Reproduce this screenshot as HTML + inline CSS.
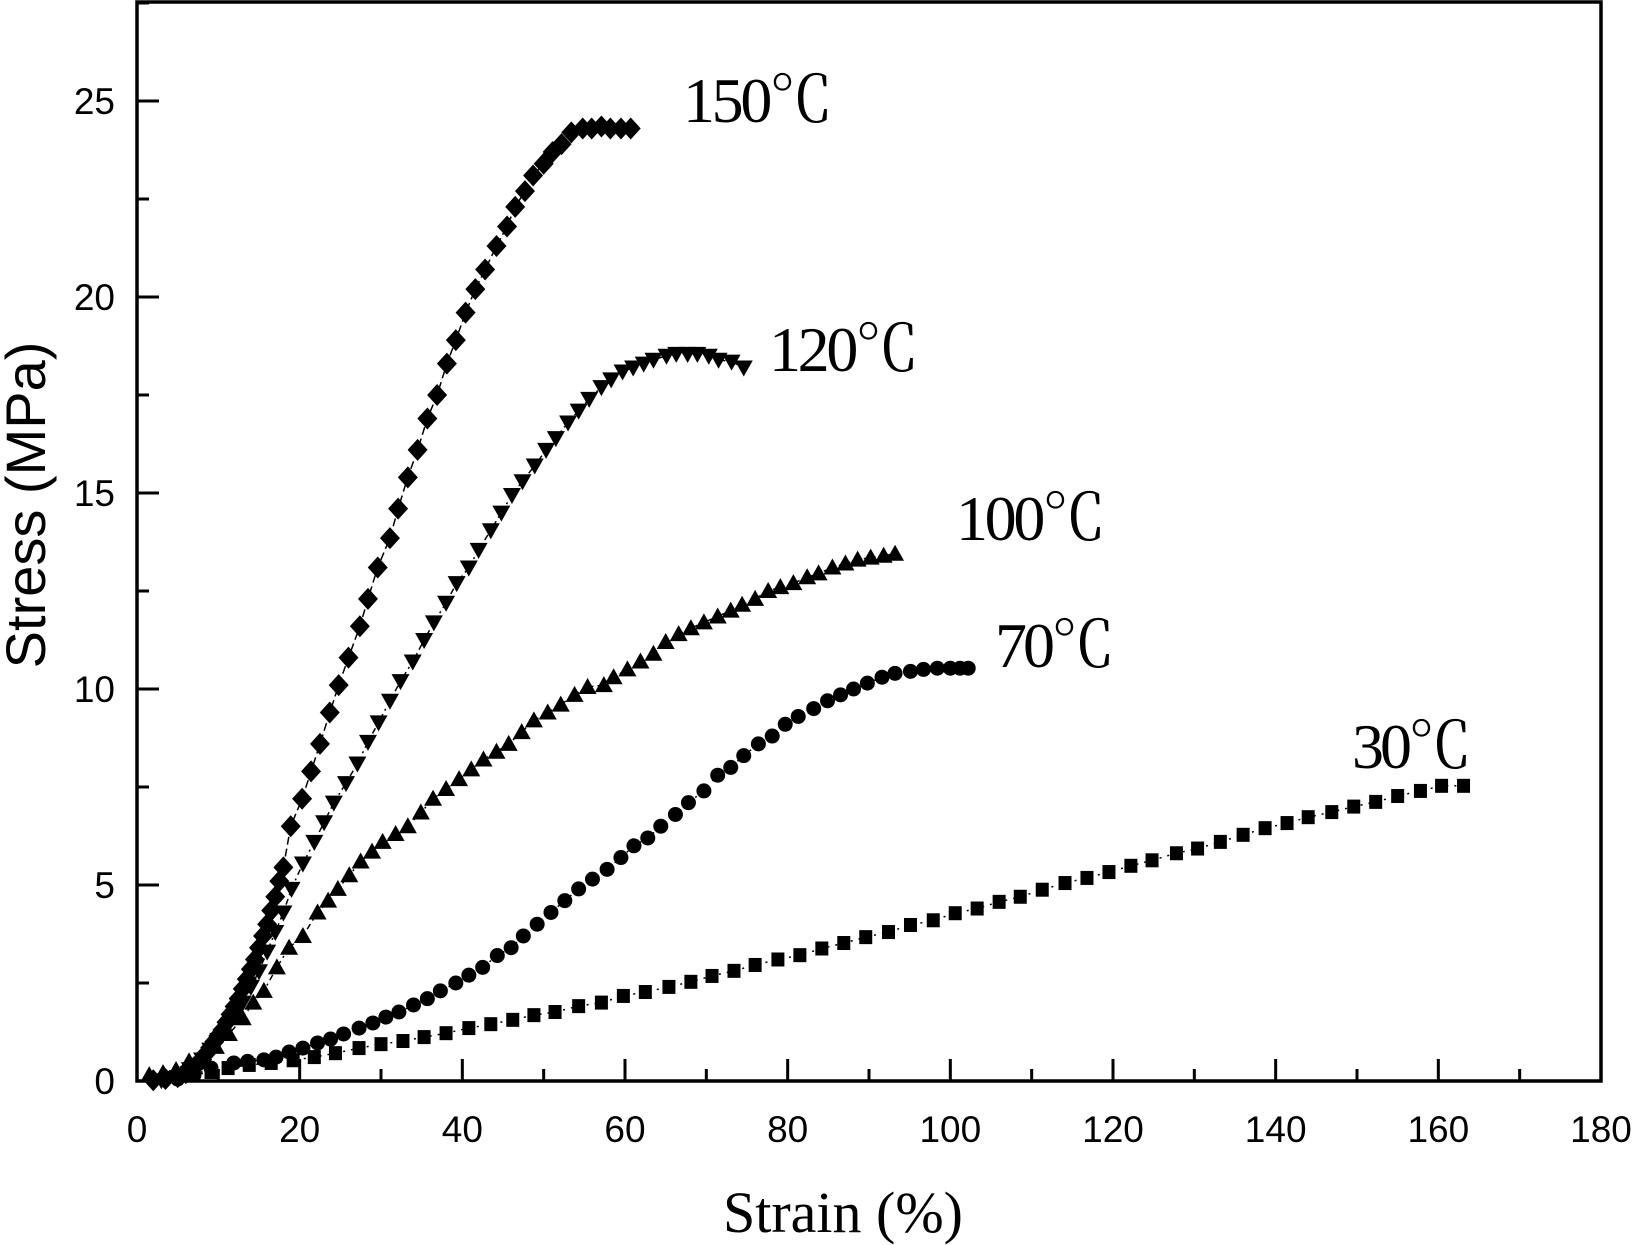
<!DOCTYPE html>
<html><head><meta charset="utf-8"><style>
html,body{margin:0;padding:0;background:#fff;}
svg{display:block;}
</style></head><body>
<svg id="chart" width="1633" height="1245" viewBox="0 0 1633 1245" xmlns="http://www.w3.org/2000/svg">
<rect x="0" y="0" width="1633" height="1245" fill="#fff"/>
<g id="plot"></g>
<g id="axes"></g>
</svg>
<script>
// ---- data ----
const xTicks = [0,20,40,60,80,100,120,140,160,180];
const yTicks = [0,5,10,15,20,25];
const x150 = [2,3.5,5,6,7,7.5,8,8.5,9,9.5,10,10.5,11,11.5,12,12.5,13,13.5,14,14.5,15,15.5,16,16.5,17,17.5,18,18.9,20.3,21.4,22.5,23.7,24.8,26,27.4,28.4,29.6,31.1,32.1,33.3,34.5,35.7,36.9,38.1,39.2,40.4,41.6,42.8,44.2,45.5,46.5,47.7,48.7,50,51.1,52.2,53.4,54.8,55.9,57.1,58.2,59.5,60.7];
const y150 = [0.02,0.05,0.1,0.2,0.35,0.45,0.55,0.7,0.85,1.0,1.15,1.3,1.5,1.7,1.9,2.1,2.35,2.6,2.85,3.1,3.4,3.7,4.0,4.35,4.7,5.1,5.45,6.5,7.2,7.9,8.6,9.4,10.1,10.8,11.6,12.3,13.1,13.85,14.6,15.4,16.1,16.9,17.5,18.3,18.9,19.6,20.2,20.7,21.3,21.8,22.3,22.7,23.1,23.4,23.7,23.9,24.2,24.3,24.3,24.35,24.3,24.3,24.3];
const x120 = [3,5,6.5,8,9,10,11,12,13,14,15,16,17,18,19,20.4,21.8,23,24.2,25.7,27.1,28.4,29.7,31.1,32.4,33.9,35.3,36.5,38,39.3,40.8,42,43.5,44.8,46.1,47.4,48.9,50.3,51.5,53,54.3,55.6,57.1,58.3,59.7,61,62.3,63.5,65.1,66.3,67.7,68.9,70.3,71.5,73.1,74.6];
const y120 = [0.02,0.1,0.3,0.55,0.8,1.05,1.35,1.65,2.0,2.4,2.8,3.3,3.8,4.3,4.9,5.55,6.1,6.6,7.1,7.6,8.1,8.65,9.15,9.7,10.2,10.7,11.25,11.7,12.2,12.7,13.1,13.55,14.05,14.5,14.95,15.3,15.7,16.1,16.4,16.8,17.1,17.4,17.7,17.9,18.1,18.2,18.3,18.4,18.5,18.55,18.55,18.55,18.5,18.4,18.35,18.2];
const x100 = [1.5,3.2,4.8,6.4,7.9,9.7,11.3,13,14.3,15.6,17.2,18.7,20.4,22.2,23.5,24.7,26.1,27.5,28.9,30.2,31.8,33.3,34.9,36.4,38,39.6,41.1,42.6,44.2,45.7,47.3,48.8,50.5,52.1,53.8,55.4,57.4,58.6,60.3,61.9,63.5,65,66.6,68.1,69.7,71.4,73,74.4,76,77.6,79.1,80.7,82.4,83.8,85.5,87.1,88.6,90.2,91.8,93.2];
const y100 = [0.15,0.2,0.28,0.5,0.6,0.87,1.2,1.6,2.0,2.3,2.9,3.4,3.7,4.3,4.6,4.9,5.25,5.6,5.85,6.1,6.3,6.5,6.85,7.2,7.45,7.7,7.95,8.2,8.4,8.6,8.9,9.2,9.4,9.6,9.85,10.05,10.1,10.3,10.5,10.7,10.9,11.2,11.4,11.55,11.7,11.85,12.0,12.15,12.3,12.5,12.6,12.7,12.85,12.95,13.1,13.2,13.3,13.35,13.4,13.45];
const x70 = [5,7,9.1,11.9,13.6,15.6,17.1,18.7,20.4,22.2,23.8,25.4,27.3,29,30.6,32.2,34,35.7,37.3,39.2,40.8,42.5,44.3,46,47.5,49.2,50.9,52.6,54.3,56,57.8,59.5,61.1,62.8,64.4,66.2,67.8,69.7,71.4,73,74.6,76.4,78.1,79.7,81.3,83.2,84.9,86.5,88.1,89.8,91.6,93.2,95.1,96.7,98.4,100,101.2,102.2];
const y70 = [0.05,0.15,0.33,0.46,0.5,0.54,0.61,0.74,0.84,0.97,1.07,1.2,1.35,1.48,1.63,1.76,1.94,2.1,2.3,2.5,2.7,2.9,3.2,3.4,3.7,4.0,4.3,4.6,4.9,5.15,5.4,5.7,6.0,6.2,6.5,6.8,7.1,7.4,7.8,8.0,8.3,8.6,8.8,9.1,9.3,9.5,9.7,9.85,10.0,10.15,10.3,10.4,10.45,10.5,10.53,10.53,10.53,10.53];
const x30 = [6.9,9.1,11.2,13.8,16.5,19.2,21.8,24.4,27.3,30,32.7,35.3,38,40.8,43.5,46.2,48.8,51.4,54.3,57.1,59.8,62.5,65.4,68.1,70.7,73.4,76,78.8,81.5,84.2,86.9,89.6,92.4,95.1,97.9,100.6,103.3,106,108.6,111.3,114.1,116.8,119.5,122.2,124.8,127.8,130.4,133.2,136,138.7,141.4,144,146.9,149.6,152.3,155,157.8,160.4,163.1];
const y30 = [0.15,0.23,0.33,0.41,0.46,0.53,0.61,0.71,0.84,0.94,1.02,1.12,1.22,1.35,1.45,1.56,1.68,1.76,1.91,2.0,2.17,2.27,2.4,2.53,2.68,2.81,2.96,3.1,3.21,3.38,3.52,3.67,3.8,3.98,4.1,4.28,4.4,4.57,4.7,4.88,5.05,5.18,5.33,5.49,5.63,5.81,5.93,6.1,6.28,6.45,6.58,6.73,6.86,7.0,7.12,7.27,7.4,7.53,7.53];

// ---- axes geometry ----
const X0=137, X1=1601, Y0=1081, Y1=2;
const xMax=180;
function sx(v){return X0 + v/xMax*(X1-X0);}
function sy(v){return Y0 - v*39.2;}
const NS="http://www.w3.org/2000/svg";
const plot=document.getElementById('plot');
const axes=document.getElementById('axes');
function mk(tag,attrs,parent){const e=document.createElementNS(NS,tag);for(const k in attrs)e.setAttribute(k,attrs[k]);parent.appendChild(e);return e;}

function marker(kind,cx,cy,g){
  let e;
  if(kind==='diamond'){e=mk('polygon',{points:`${cx},${cy-11} ${cx+10},${cy} ${cx},${cy+11} ${cx-10},${cy}`,fill:'#000'},g);}
  else if(kind==='down'){e=mk('polygon',{points:`${cx-9},${cy-7} ${cx+9},${cy-7} ${cx},${cy+9}`,fill:'#000'},g);}
  else if(kind==='up'){e=mk('polygon',{points:`${cx-9},${cy+7} ${cx+9},${cy+7} ${cx},${cy-9}`,fill:'#000'},g);}
  else if(kind==='circle'){e=mk('circle',{cx:cx,cy:cy,r:7.5,fill:'#000'},g);}
  else {e=mk('rect',{x:cx-6.5,y:cy-7,width:13,height:14,fill:'#000'},g);}
  return e;
}
function series(name,xs,ys,kind,dash){
  const g=mk('g',{},plot);
  
  
  const pts=xs.map((x,i)=>sx(x).toFixed(1)+','+sy(ys[i]).toFixed(1)).join(' ');
  const l=mk('polyline',{points:pts,fill:'none',stroke:'#000','stroke-width':1.5,'stroke-dasharray':dash},g);
  
  
  xs.forEach((x,i)=>{
    const m=marker(kind,sx(x),sy(ys[i]),g);
    
    
  });
}
series('series-30c',x30,y30,'square','2 6');
series('series-70c',x70,y70,'circle','2 6');
series('series-100c',x100,y100,'up','6 4 2 4');
series('series-120c',x120,y120,'down','6 4 2 4');
series('series-150c',x150,y150,'diamond','8 4');

const frame=mk('rect',{x:X0,y:Y1,width:X1-X0,height:Y0-Y1,fill:'none',stroke:'#000','stroke-width':3.5},axes);


xTicks.forEach(v=>{
  const t=mk('line',{x1:sx(v),x2:sx(v),y1:Y0,y2:Y0-22,stroke:'#000','stroke-width':3},axes);
  
  
  const lb=mk('text',{x:sx(v),y:1142,'text-anchor':'middle','font-family':'Liberation Sans, sans-serif','font-size':37},axes);
  lb.textContent=v;
  
  
  if(v<180){
    const m=mk('line',{x1:sx(v+10),x2:sx(v+10),y1:Y0,y2:Y0-12,stroke:'#000','stroke-width':3},axes);
    
    
  }
});
yTicks.forEach(v=>{
  const t=mk('line',{x1:X0,x2:X0+22,y1:sy(v),y2:sy(v),stroke:'#000','stroke-width':3},axes);
  
  
  const lb=mk('text',{x:115,y:sy(v)+13,'text-anchor':'end','font-family':'Liberation Sans, sans-serif','font-size':37},axes);
  lb.textContent=v;
  
  
  const m=mk('line',{x1:X0,x2:X0+12,y1:sy(v+2.5),y2:sy(v+2.5),stroke:'#000','stroke-width':3},axes);
  
  
});
</script>
<svg style="position:absolute;left:0;top:0" width="1633" height="1245">
<text x="843" y="1232" text-anchor="middle" font-family="Liberation Serif, serif" font-size="58">Strain (%)</text>
<text transform="translate(45,505) rotate(-90)" text-anchor="middle" font-family="Liberation Sans, sans-serif" font-size="56">Stress (MPa)</text>
<text x="683" y="122" font-family="Liberation Serif, 'Noto Serif CJK SC', serif" font-size="64" textLength="150">150℃</text>
<text x="769" y="371" font-family="Liberation Serif, 'Noto Serif CJK SC', serif" font-size="64" textLength="150">120℃</text>
<text x="956" y="540" font-family="Liberation Serif, 'Noto Serif CJK SC', serif" font-size="64" textLength="150">100℃</text>
<text x="995" y="667" font-family="Liberation Serif, 'Noto Serif CJK SC', serif" font-size="64" textLength="120">70℃</text>
<text x="1352" y="768" font-family="Liberation Serif, 'Noto Serif CJK SC', serif" font-size="64" textLength="120">30℃</text>
</svg>
</body></html>
